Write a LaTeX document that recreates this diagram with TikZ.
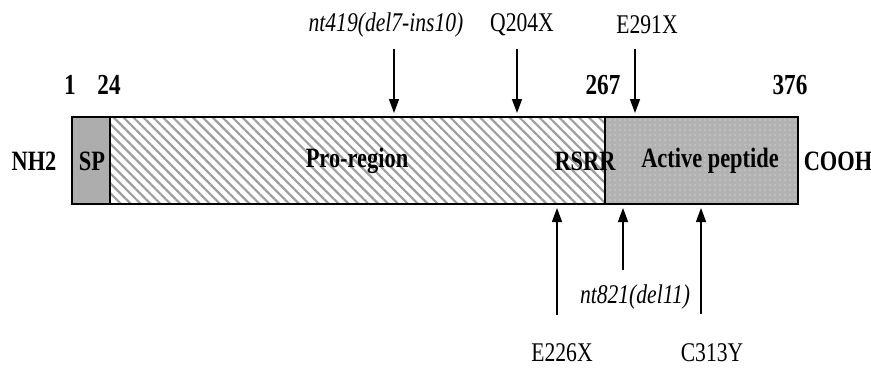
\documentclass[tikz,border=0pt]{standalone}
\usepackage{fontspec}
\setmainfont[FakeStretch=0.8]{Liberation Serif}
\usetikzlibrary{arrows.meta,patterns.meta}
\colorlet{csp}{black!32}
\colorlet{cact}{black!30}
\colorlet{chatch}{black!38}
\tikzset{
  seg/.style={draw=black, line width=0.9pt},
  num/.style={font=\fontsize{14.5}{16}\selectfont\bfseries, inner sep=0pt},
  dom/.style={font=\fontsize{14}{16}\selectfont\bfseries, inner sep=0pt},
  mut/.style={font=\fontsize{13.5}{16}\selectfont, inner sep=0pt},
  imut/.style={font=\fontsize{13.5}{16}\selectfont\itshape, inner sep=0pt},
  hit/.style={-{Triangle[length=7pt,width=5pt]}, line width=0.7pt},
}

\begin{document}
\begin{tikzpicture}[x=0.5pt, y=-0.5pt]
\useasboundingbox (0,0) rectangle (871,370);

% protein bar: signal peptide, pro-region, active peptide
\def\yt{117}\def\yb{204}
\fill[csp] (72,\yt) rectangle (110,\yb);
\fill[pattern={Lines[angle=-45,distance=3.5pt,line width=1.1pt]}, pattern color=chatch]
  (110,\yt) rectangle (605,\yb);
\fill[cact, postaction={pattern={Dots[distance=2.5pt,radius=0.35pt]}, pattern color=white!85!gray}]
  (605,\yt) rectangle (798,\yb);
\draw[seg] (72,\yt) rectangle (798,\yb);
\draw[seg] (110,\yt) -- (110,\yb);
\draw[seg] (605,\yt) -- (605,\yb);

% residue numbers
\foreach \x/\t/\n in {70/1/p1, 109/24/p24, 603/267/p267, 790/376/p376}
  \node[num] (\n) at (\x,85) {\t};

% domain labels
\node[dom] (nterm) at (34,161) {NH2};
\node[dom] (sp) at (92,161) {SP};
\node[dom] (pro) at (357,161) {Pro-region};
\node[dom] (rsrr) at (585,161) {RSRR};
\node[dom] (act) at (710,161) {Active peptide};
\node[dom] (cterm) at (838,161) {COOH};

% mutations above the bar
\node[imut] (m419) at (386,25) {nt419(del7-ins10)};
\node[mut] (q204) at (522,25) {Q204X};
\node[mut] (e291) at (647,25) {E291X};
\foreach \x/\n in {394/a, 517/b, 635/c} {
  \coordinate (\n s) at (\x,49);
  \coordinate (\n e) at (\x,113);
  \draw[hit] (\n s) -- (\n e);
}

% mutations below the bar
\node[mut] (e226) at (562,353) {E226X};
\node[imut] (m821) at (635,297) {nt821(del11)};
\node[mut] (c313) at (712,353) {C313Y};
\foreach \x/\y/\n in {557/315/d, 623/270/e, 701/314/f} {
  \coordinate (\n s) at (\x,\y);
  \coordinate (\n e) at (\x,208);
  \draw[hit] (\n s) -- (\n e);
}
\end{tikzpicture}
\end{document}
